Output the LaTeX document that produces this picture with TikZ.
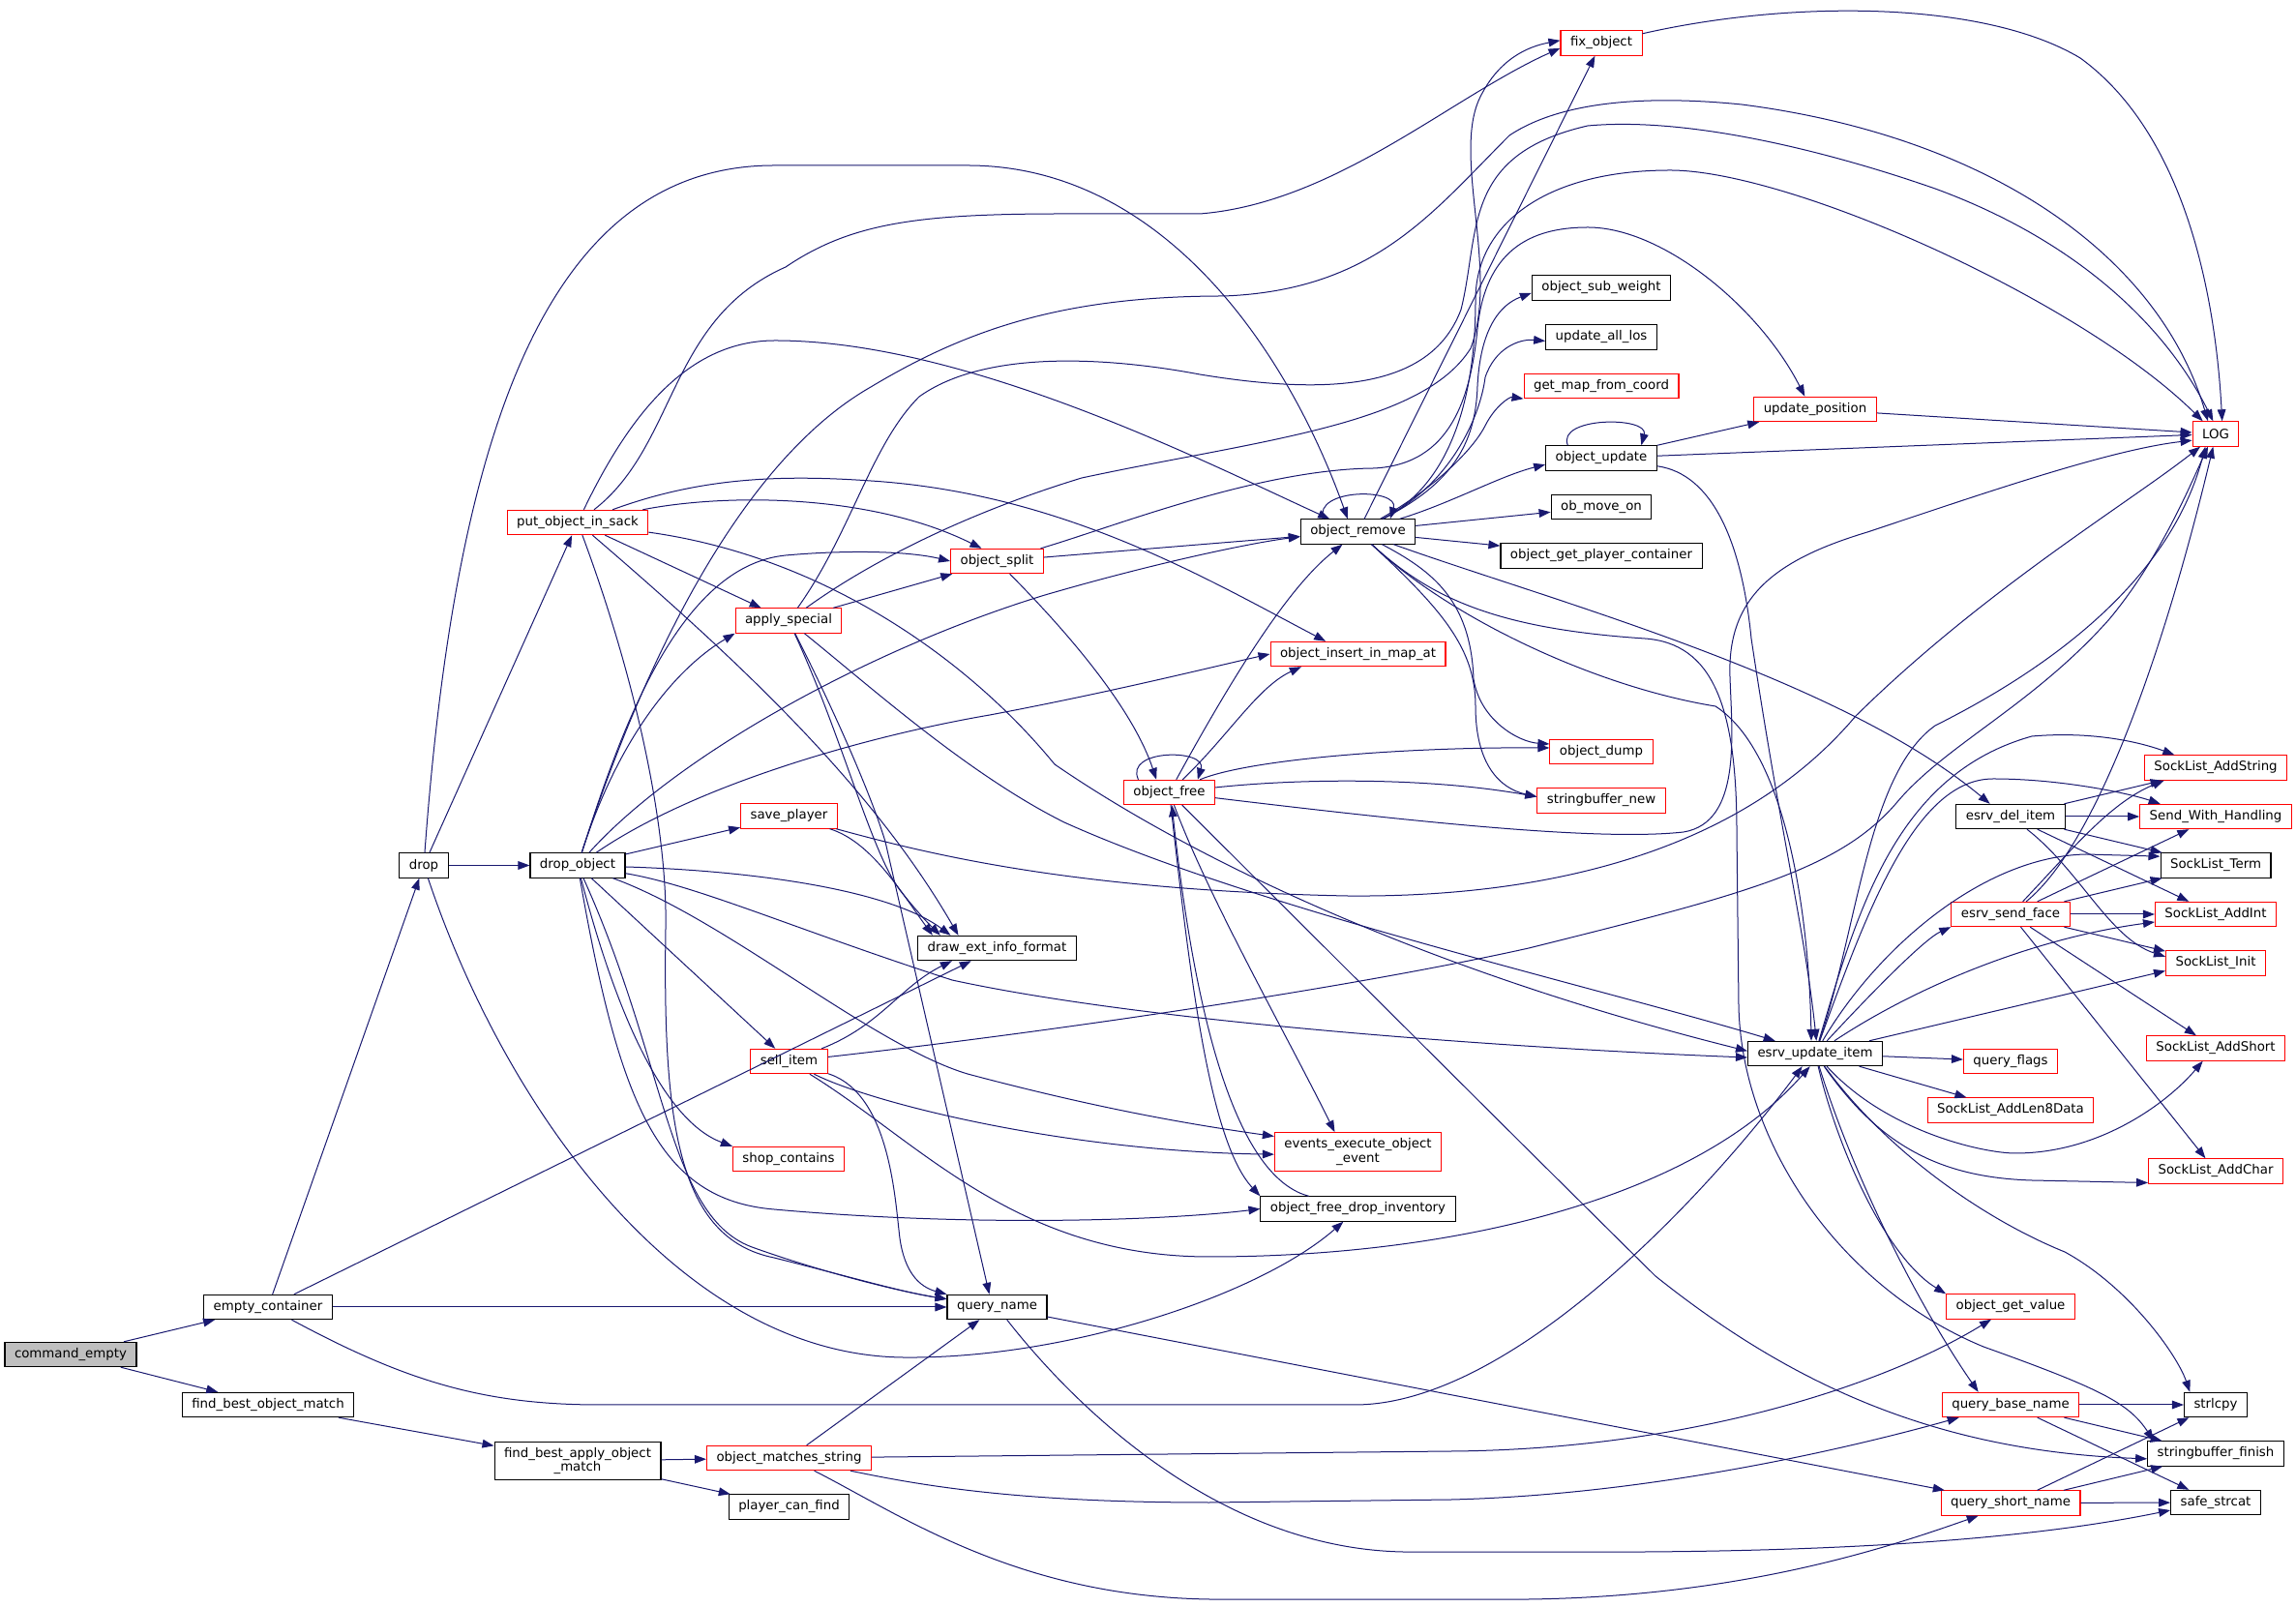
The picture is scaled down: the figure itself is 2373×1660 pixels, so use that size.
\documentclass[tikz,border=0pt]{standalone}
\usepackage{fontspec}
\setmainfont{DejaVu Sans}
\usepackage{tikz}
\usetikzlibrary{arrows.meta}
\definecolor{edgeblue}{HTML}{191970}
\definecolor{boxred}{HTML}{FF0000}
\definecolor{rootgray}{HTML}{BFBFBF}
\tikzset{
    fn-box/.style = {draw=black, fill=white, line width=0.8pt, rectangle, inner xsep=7.5pt, inner ysep=4.5pt, minimum height=19pt, font=\fontsize{10}{10.7}\selectfont},
    fn-box-red/.style = {fn-box, draw=boxred},
    fn-box-root/.style = {fn-box, fill=rootgray},
    call/.style = {draw=edgeblue, line width=0.75pt, -{Triangle[length=9pt,width=6.5pt]}},
}

\begin{document}
\begin{tikzpicture}[x=0.75pt, y=0.75pt]
\path[use as bounding box, fill=white] (0,0) rectangle (2373,1660);

\node[fn-box-root] (cmd) at (73,260) {command\_empty};
\node[fn-box] (emptyc) at (277,309) {empty\_container};
\node[fn-box] (fbom) at (277,208) {find\_best\_object\_match};
\node[fn-box] (drop) at (438,765.5) {drop};
\node[fn-box-red] (pois) at (597,1120) {put\_object\_in\_sack};
\node[fn-box] (dropo) at (597,765.5) {drop\_object};
\node[fn-box, align=center] (fbaom) at (597,150) {find\_best\_apply\_object\\\_match};
\node[fn-box-red] (apsp) at (815,1018.5) {apply\_special};
\node[fn-box-red] (savep) at (815.5,816.5) {save\_player};
\node[fn-box-red] (sell) at (815.5,563) {sell\_item};
\node[fn-box-red] (shopc) at (815,462) {shop\_contains};
\node[fn-box-red] (oms) at (815.5,153) {object\_matches\_string};
\node[fn-box] (pcf) at (815.5,102.5) {player\_can\_find};
\node[fn-box-red] (osplit) at (1030.5,1080) {object\_split};
\node[fn-box] (deif) at (1030.5,680) {draw\_ext\_info\_format};
\node[fn-box] (qname) at (1030.5,309) {query\_name};
\node[fn-box-red] (ofree) at (1208.5,841) {object\_free};
\node[fn-box] (oremove) at (1403.5,1110.5) {object\_remove};
\node[fn-box-red] (oinsert) at (1403.5,984) {object\_insert\_in\_map\_at};
\node[fn-box-red, align=center] (eeoe) at (1403.5,469.5) {events\_execute\_object\\\_event};
\node[fn-box] (ofdi) at (1403.5,410.5) {object\_free\_drop\_inventory};
\node[fn-box-red] (fixo) at (1655,1615.5) {fix\_object};
\node[fn-box] (osw) at (1655,1362.5) {object\_sub\_weight};
\node[fn-box] (ualos) at (1655,1311.5) {update\_all\_los};
\node[fn-box-red] (gmfc) at (1655,1261) {get\_map\_from\_coord};
\node[fn-box] (oupd) at (1655,1186.5) {object\_update};
\node[fn-box] (omove) at (1655,1136) {ob\_move\_on};
\node[fn-box] (ogpc) at (1655,1085.5) {object\_get\_player\_container};
\node[fn-box-red] (odump) at (1655,883) {object\_dump};
\node[fn-box-red] (sbnew) at (1655,832.5) {stringbuffer\_new};
\node[fn-box-red] (upos) at (1876,1237) {update\_position};
\node[fn-box] (eupd) at (1876,571) {esrv\_update\_item};
\node[fn-box] (edel) at (2078,816) {esrv\_del\_item};
\node[fn-box-red] (esend) at (2078,715) {esrv\_send\_face};
\node[fn-box-red] (qflags) at (2078,563) {query\_flags};
\node[fn-box-red] (sladd8) at (2078,512.5) {SockList\_AddLen8Data};
\node[fn-box-red] (ogval) at (2078,309.5) {object\_get\_value};
\node[fn-box-red] (qbase) at (2078,208) {query\_base\_name};
\node[fn-box-red] (qshort) at (2078,106.5) {query\_short\_name};
\node[fn-box-red] (log) at (2290,1211.5) {LOG};
\node[fn-box-red] (sladdstr) at (2290,866.5) {SockList\_AddString};
\node[fn-box-red] (swh) at (2290,816) {Send\_With\_Handling};
\node[fn-box] (slterm) at (2290,765.5) {SockList\_Term};
\node[fn-box-red] (sladdint) at (2290,715) {SockList\_AddInt};
\node[fn-box-red] (slinit) at (2290,664.5) {SockList\_Init};
\node[fn-box-red] (sladdshort) at (2290,576.5) {SockList\_AddShort};
\node[fn-box-red] (sladdchar) at (2290,449.5) {SockList\_AddChar};
\node[fn-box] (strlcpy) at (2290,208) {strlcpy};
\node[fn-box] (sbfin) at (2290,157.5) {stringbuffer\_finish};
\node[fn-box] (safecat) at (2290,107) {safe\_strcat};

\draw[call] (cmd) -- (emptyc);
\draw[call] (cmd) -- (fbom);
\draw[call] (fbom) -- (fbaom);
\draw[call] (fbaom) -- (oms);
\draw[call] (fbaom) -- (pcf);
\draw[call] (emptyc) -- (drop);
\draw[call] (emptyc) -- (deif);
\draw[call] (emptyc) -- (qname);
\draw[call] (emptyc) .. controls (420,232) and (500,208) .. (620,208) -- (1400,208) .. controls (1560,208) and (1760,420) .. ([xshift=-10pt]eupd.south);

\draw[call] (drop) -- (pois);
\draw[call] (drop) -- (dropo);
\draw[call] (drop) .. controls (470,1200) and (560,1489) .. (800,1489) -- (1000,1489) .. controls (1200,1489) and (1330,1300) .. ([xshift=-8pt]oremove.north);
\draw[call] (drop) .. controls (520,520) and (700,260) .. (933,257) .. controls (1100,255) and (1300,320) .. (ofdi);

\draw[call] (pois) .. controls (700,1200) and (690,1330) .. (812,1384) .. controls (880,1430) and (950,1439) .. (1100,1439) -- (1240,1439) .. controls (1380,1450) and (1500,1560) .. ([yshift=-4pt]fixo.west);
\draw[call] (pois) .. controls (650,1230) and (710,1308) .. (801,1308) .. controls (1000,1308) and (1250,1180) .. ([xshift=-22pt]oremove.north);
\draw[call] (pois) .. controls (720,1165) and (800,1170) .. (900,1163) .. controls (1100,1150) and (1250,1060) .. ([xshift=-25pt]oinsert.north);
\draw[call] (pois) .. controls (750,1150) and (900,1150) .. ([xshift=-12pt]osplit.north);
\draw[call] (pois) -- (apsp);
\draw[call] (pois) .. controls (850,1085) and (1000,980) .. (1090,870) .. controls (1250,760) and (1500,650) .. ([yshift=2pt]eupd.west);
\draw[call] (pois) .. controls (760,980) and (900,850) .. ([xshift=-30pt]deif.north);
\draw[call] (pois) .. controls (660,950) and (690,800) .. (688,700) .. controls (685,500) and (700,380) .. (800,360) .. controls (880,340) and (930,325) .. (qname);

\draw[call] (dropo) .. controls (660,960) and (760,1180) .. (900,1260) .. controls (1000,1320) and (1100,1354) .. (1265,1354) .. controls (1420,1360) and (1480,1440) .. (1560,1520) .. controls (1620,1560) and (1720,1560) .. (1800,1552) .. controls (2050,1520) and (2230,1400) .. ([xshift=-6pt]log.north);
\draw[call] (dropo) .. controls (640,900) and (700,1075) .. (812,1086) .. controls (880,1092) and (940,1090) .. (osplit.west);
\draw[call] (dropo) .. controls (640,900) and (700,970) .. (apsp.south west);
\draw[call] (dropo) .. controls (700,880) and (900,990) .. (1080,1045) .. controls (1200,1080) and (1300,1100) .. ([yshift=-4pt]oremove.west);
\draw[call] (dropo) .. controls (720,850) and (900,900) .. (1023,921) .. controls (1150,945) and (1250,970) .. (oinsert.west);
\draw[call] (dropo) -- (savep);
\draw[call] (dropo) .. controls (780,760) and (920,740) .. ([xshift=-36pt]deif.north);
\draw[call] (dropo) .. controls (720,745) and (820,700) .. (984,647) .. controls (1200,600) and (1600,575) .. ([yshift=-3pt]eupd.west);
\draw[call] (dropo) .. controls (750,710) and (900,580) .. (1000,550) .. controls (1150,510) and (1250,495) .. ([yshift=12pt]eeoe.west);
\draw[call] (dropo) -- (sell);
\draw[call] (dropo) .. controls (640,600) and (690,500) .. (shopc.north west);
\draw[call] (dropo) .. controls (640,520) and (680,420) .. (800,410) .. controls (1000,392) and (1200,398) .. (ofdi.west);
\draw[call] (dropo) .. controls (690,560) and (690,400) .. (780,370) .. controls (850,345) and (930,325) .. (qname);

\draw[call] (apsp) -- (osplit);
\draw[call] (apsp) .. controls (880,1110) and (900,1200) .. (950,1250) .. controls (1020,1300) and (1150,1290) .. (1240,1273) .. controls (1380,1250) and (1480,1260) .. (1510,1340) .. controls (1530,1420) and (1510,1500) .. (1641,1530) .. controls (1750,1540) and (1900,1500) .. (2000,1465) .. controls (2150,1410) and (2240,1320) .. ([xshift=-2pt]log.north);
\draw[call] (apsp) .. controls (900,1080) and (1000,1130) .. (1118,1166) .. controls (1300,1205) and (1470,1220) .. (1520,1300) .. controls (1550,1380) and (1500,1500) .. (1530,1560) .. controls (1550,1600) and (1580,1612) .. ([yshift=2pt]fixo.west);
\draw[call] (apsp) .. controls (900,950) and (1000,860) .. (1100,810) .. controls (1300,720) and (1650,640) .. ([xshift=-31pt]eupd.north);
\draw[call] (apsp) .. controls (870,900) and (900,780) .. (930,740) .. controls (950,715) and (960,705) .. ([xshift=-44pt]deif.north);
\draw[call] (apsp) .. controls (860,930) and (900,840) .. (915,790) -- ([xshift=-6pt]qname.north);

\draw[call] (savep) .. controls (900,790) and (930,740) .. ([xshift=-50pt]deif.north);
\draw[call] (savep) .. controls (950,780) and (1100,740) .. (1392,734) .. controls (1600,732) and (1800,780) .. (1918,920) .. controls (2050,1050) and (2200,1140) .. ([xshift=-12pt]log.south);

\draw[call] (sell) .. controls (910,600) and (930,640) .. ([xshift=-35pt]deif.south);
\draw[call] (sell) .. controls (1100,595) and (1400,640) .. (1580,680) .. controls (1800,735) and (1900,760) .. (1960,830) .. controls (2010,890) and (2100,930) .. (2180,1020) .. controls (2230,1080) and (2260,1150) .. ([xshift=-6pt]log.south);
\draw[call] (sell) .. controls (900,520) and (1100,470) .. ([yshift=-2pt]eeoe.west);
\draw[call] (sell) .. controls (920,530) and (925,420) .. (930,380) .. controls (935,345) and (950,330) .. (qname.north west);
\draw[call] (sell) .. controls (950,480) and (1050,361) .. (1250,361) .. controls (1500,361) and (1750,420) .. ([xshift=-4pt]eupd.south);

\draw[call] (oms) -- (qname);
\draw[call] (oms) -- (1500,160) .. controls (1750,162) and (1950,230) .. ([xshift=-15pt]ogval.south);
\draw[call] (oms) .. controls (950,125) and (1050,107) .. (1250,107) -- (1500,110) .. controls (1700,115) and (1900,160) .. ([xshift=-40pt]qbase.south);
\draw[call] (oms) .. controls (930,95) and (1050,10) .. (1250,7) -- (1580,7) .. controls (1800,10) and (1950,60) .. ([xshift=-25pt]qshort.south);

\draw[call] (osplit) -- (oremove);
\draw[call] (osplit) .. controls (1100,1010) and (1170,930) .. ([xshift=-10pt]ofree.north);
\draw[call] (osplit) .. controls (1150,1115) and (1300,1175) .. (1420,1176) .. controls (1500,1180) and (1520,1250) .. (1527,1320) .. controls (1535,1400) and (1580,1425) .. (1641,1425) .. controls (1720,1425) and (1820,1340) .. ([xshift=-8pt]upos.north);

\draw[call] ([xshift=-24pt]ofree.north) .. controls +(-15,32) and +(10,32) .. ([xshift=22pt]ofree.north);
\draw[call] (ofree) .. controls (1290,990) and (1340,1060) .. ([xshift=-12pt]oremove.south);
\draw[call] (ofree) .. controls (1270,900) and (1300,950) .. ([xshift=-44pt]oinsert.south);
\draw[call] (ofree) .. controls (1290,875) and (1450,888) .. ([yshift=3pt]odump.west);
\draw[call] (ofree) .. controls (1350,856) and (1480,856) .. ([yshift=3pt]sbnew.west);
\draw[call] (ofree) .. controls (1450,812) and (1650,790) .. (1740,800) .. controls (1800,810) and (1790,900) .. (1788,960) .. controls (1785,1040) and (1830,1080) .. (1930,1110) .. controls (2050,1150) and (2180,1195) .. ([yshift=-5pt]log.west);
\draw[call] (ofree) .. controls (1250,730) and (1330,590) .. ([xshift=-18pt]eeoe.north);
\draw[call] (ofree) .. controls (1230,650) and (1250,480) .. (ofdi.north west);
\draw[call] (ofdi) .. controls (1290,440) and (1240,560) .. ([xshift=2pt]ofree.south);
\draw[call] (ofree) .. controls (1350,700) and (1550,500) .. (1711,341) .. controls (1850,230) and (2000,160) .. ([yshift=-4pt]sbfin.west);

\draw[call] ([xshift=-27pt]oremove.north) .. controls +(-10,32) and +(10,32) .. ([xshift=25pt]oremove.north);
\draw[call] (oremove) -- (fixo);
\draw[call] (oremove) .. controls (1500,1160) and (1525,1200) .. (1527,1261) .. controls (1530,1320) and (1550,1345) .. ([yshift=-4pt]osw.west);
\draw[call] (oremove) .. controls (1500,1160) and (1530,1230) .. (1535,1270) .. controls (1545,1300) and (1570,1310) .. ([yshift=-3pt]ualos.west);
\draw[call] (oremove) .. controls (1490,1160) and (1525,1200) .. (1535,1220) .. controls (1545,1240) and (1560,1250) .. (gmfc.south west);
\draw[call] (oremove) .. controls (1500,1140) and (1550,1168) .. ([yshift=-5pt]oupd.west);
\draw[call] (oremove) -- (omove);
\draw[call] (oremove) -- (ogpc);
\draw[call] (oremove) .. controls (1500,1160) and (1525,1250) .. (1525,1350) .. controls (1525,1430) and (1600,1484) .. (1726,1484) .. controls (1850,1484) and (2150,1350) .. ([xshift=-10pt]log.north);
\draw[call] (oremove) .. controls (1600,1040) and (1900,960) .. ([xshift=-16pt]edel.north);
\draw[call] (oremove) .. controls (1500,1020) and (1650,950) .. (1773,930) .. controls (1850,880) and (1870,700) .. ([xshift=-3pt]eupd.north);
\draw[call] (oremove) .. controls (1480,1040) and (1550,1010) .. (1700,1000) .. controls (1770,995) and (1795,930) .. (1795,800) -- (1797,620) .. controls (1800,480) and (1900,330) .. (2050,268) .. controls (2170,225) and (2200,210) .. ([xshift=-48pt]sbfin.north);
\draw[call] (oremove) .. controls (1480,1070) and (1520,1040) .. (1523,958) .. controls (1530,915) and (1570,893) .. ([yshift=6pt]odump.west);
\draw[call] (oremove) .. controls (1490,1030) and (1525,990) .. (1525,930) .. controls (1525,870) and (1550,845) .. ([yshift=3pt]sbnew.west);

\draw[call] ([xshift=-26pt]oupd.north) .. controls +(-12,30) and +(8,30) .. ([xshift=31pt]oupd.north);
\draw[call] (oupd) -- (upos);
\draw[call] (oupd) -- (log);
\draw[call] (oupd) .. controls (1770,1170) and (1800,1100) .. (1810,1000) .. controls (1840,800) and (1865,700) .. ([xshift=1pt]eupd.north);
\draw[call] (upos) -- (log);
\draw[call] (fixo) .. controls (1850,1660) and (2050,1660) .. (2150,1600) .. controls (2260,1520) and (2290,1350) .. ([xshift=5pt]log.north);

\draw[call] (edel) -- (sladdstr);
\draw[call] (edel) -- (swh);
\draw[call] (edel) -- (slterm);
\draw[call] (edel) -- (sladdint);
\draw[call] (edel) .. controls (2150,760) and (2180,690) .. ([yshift=5pt]slinit.west);

\draw[call] (esend) .. controls (2170,790) and (2240,1000) .. ([xshift=-2pt]log.south);
\draw[call] (esend) .. controls (2140,780) and (2180,830) .. ([xshift=-40pt]sladdstr.south);
\draw[call] (esend) -- (swh);
\draw[call] (esend) -- (slterm);
\draw[call] (esend) -- (sladdint);
\draw[call] (esend) -- (slinit);
\draw[call] (esend) -- (sladdshort);
\draw[call] (esend) -- (sladdchar);

\draw[call] (eupd) .. controls (1920,700) and (1930,860) .. (2000,910) .. controls (2100,960) and (2240,1050) .. ([xshift=-8pt]log.south);
\draw[call] (eupd) .. controls (1920,720) and (1960,860) .. (2100,899) .. controls (2170,905) and (2220,890) .. ([xshift=-32pt]sladdstr.north);
\draw[call] (eupd) .. controls (1930,720) and (1980,855) .. (2060,855) .. controls (2130,855) and (2200,840) .. ([xshift=-43pt]swh.north);
\draw[call] (eupd) .. controls (1940,680) and (2050,775) .. (2156,777) -- ([yshift=7pt]slterm.west);
\draw[call] (eupd) .. controls (1940,640) and (1990,690) .. (esend.south west);
\draw[call] (eupd) .. controls (1980,640) and (2100,690) .. ([yshift=-6pt]sladdint.west);
\draw[call] (eupd) -- ([yshift=-6pt]slinit.west);
\draw[call] (eupd) -- (qflags);
\draw[call] (eupd) -- (sladd8);
\draw[call] (eupd) .. controls (1950,490) and (2050,468) .. (2083,468) .. controls (2170,468) and (2240,520) .. ([xshift=-10pt]sladdshort.south);
\draw[call] (eupd) .. controls (1940,480) and (2000,443) .. (2100,440) -- ([yshift=-9pt]sladdchar.west);
\draw[call] (eupd) .. controls (1900,470) and (1950,360) .. (ogval.north west);
\draw[call] (eupd) .. controls (1920,430) and (1990,300) .. ([xshift=-25pt]qbase.north);
\draw[call] (eupd) .. controls (1950,470) and (2050,400) .. (2134,366) .. controls (2200,330) and (2250,260) .. ([xshift=-20pt]strlcpy.north);

\draw[call] (qname) -- (qshort);
\draw[call] (qname) .. controls (1100,220) and (1250,60) .. (1450,56) -- (1700,56) .. controls (2000,58) and (2150,80) .. ([yshift=-6pt]safecat.west);
\draw[call] (qbase) -- (strlcpy);
\draw[call] (qbase) -- (sbfin);
\draw[call] (qbase) -- (safecat);
\draw[call] (qshort) -- (strlcpy);
\draw[call] (qshort) -- (sbfin);
\draw[call] (qshort) -- (safecat);
\end{tikzpicture}
\end{document}
